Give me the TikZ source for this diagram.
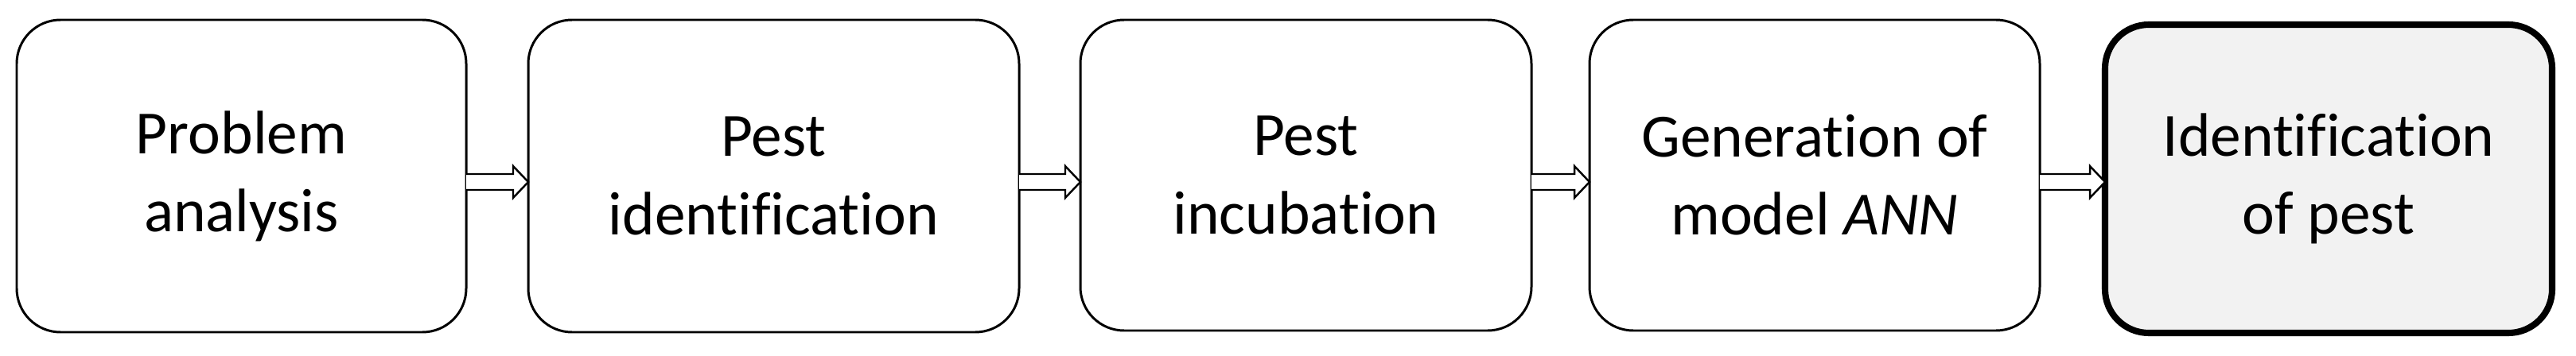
\documentclass[tikz,border=0pt]{standalone}
\usepackage{fontspec}
\setmainfont{Carlito}[Ligatures = CommonOff]
\usetikzlibrary{calc}

\begin{document}
\begin{tikzpicture}[line width = 0.85pt,
                        stage/.style = {draw, rounded corners = 0.55cm, outer sep = 0pt, align = center,
                                        minimum height = 3.93cm, font = \fontsize{22}{27.9}\selectfont},
                        goal/.style = {stage, line width = 2.3pt, fill = black!5},
                        blockarrow/.style = {draw, fill = white, line width = 0.7pt, line join = miter}]
      \useasboundingbox (0, 0) rectangle (32.38, 4.47);
      \node [stage, minimum width = 5.65cm] (b1) at (3.035, 2.255){Problem\\analysis};
      \node [stage, minimum width = 6.17cm] (b2) at (9.725, 2.255){Pest\\identification};
      \node [stage, minimum width = 5.67cm, minimum height = 3.91cm] (b3) at (16.415, 2.265){Pest\\incubation};
      \node [stage, minimum width = 5.66cm, minimum height = 3.91cm] (b4) at (22.81, 2.265){Generation of\\model \textit{ANN}};
      \node [goal, minimum width = 5.62cm, minimum height = 3.88cm] (b5) at (29.27, 2.22){Identification\\of pest};
      \coordinate (axis) at (0, 2.18);
      \foreach \a/\b in {b1/b2, b2/b3, b3/b4, b4/b5}
        \draw [blockarrow] ($(\a.east |- axis) + (0, 0.1)$) -- ($(\b.west |- axis) + (-0.19, 0.1)$)
          -- ($(\b.west |- axis) + (-0.19, 0.2)$) -- (\b.west |- axis)
          -- ($(\b.west |- axis) + (-0.19, -0.2)$) -- ($(\b.west |- axis) + (-0.19, -0.1)$)
          -- ($(\a.east |- axis) + (0, -0.1)$);
    \end{tikzpicture}
\end{document}
